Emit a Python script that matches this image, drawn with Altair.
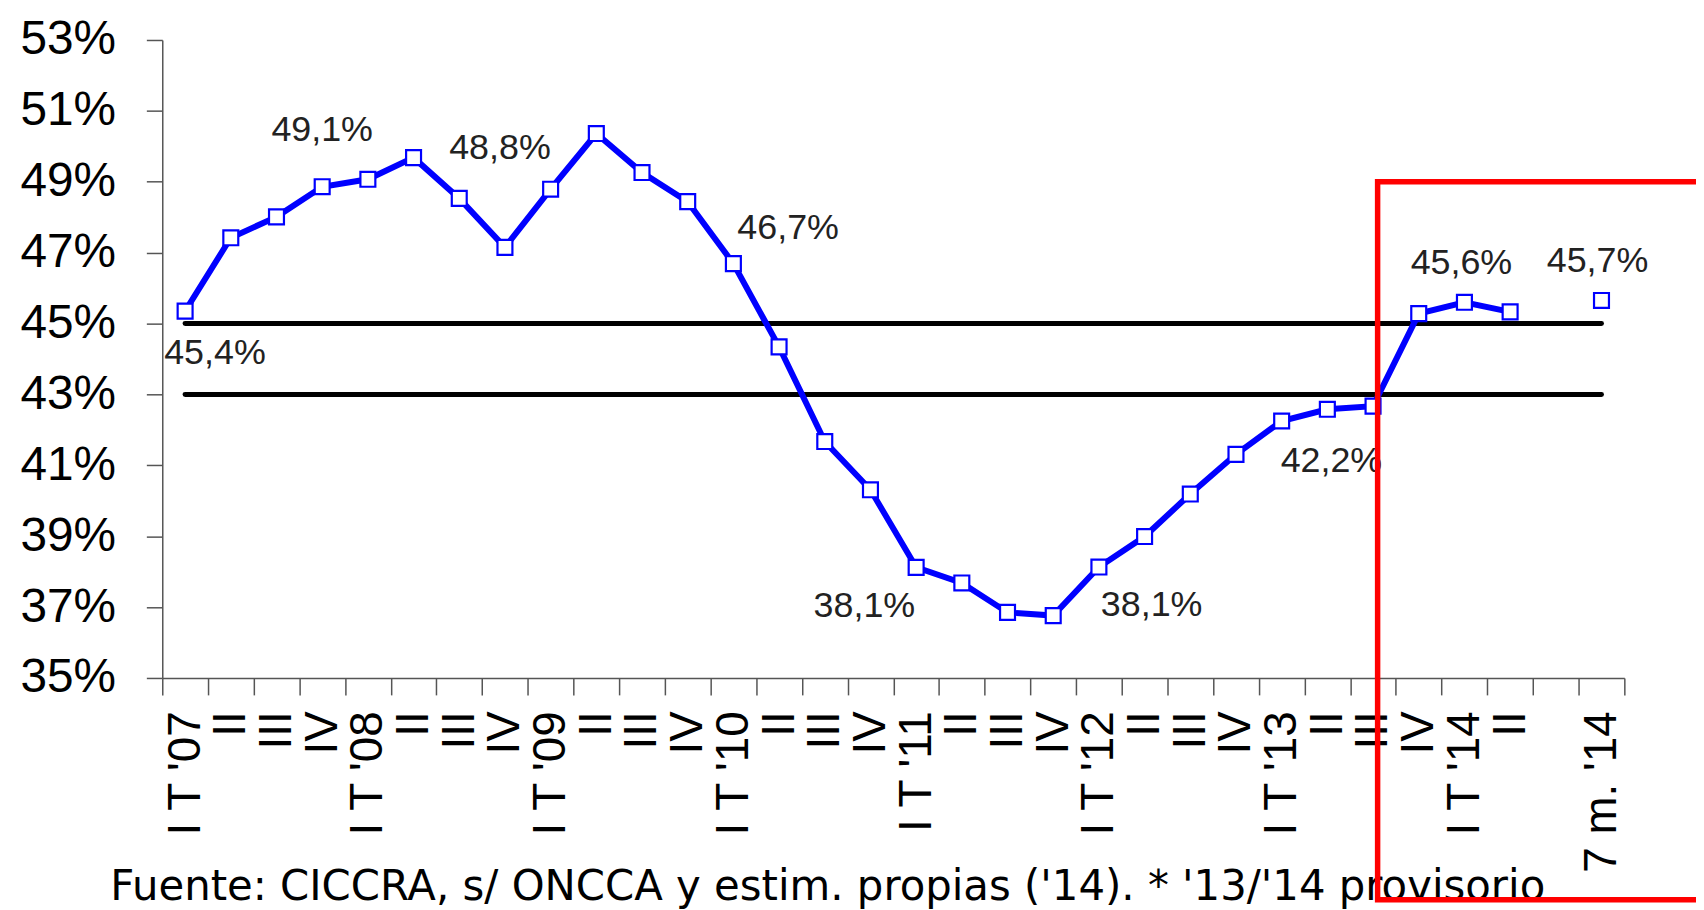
import altair as alt
import pandas as pd

# ---------------- data ----------------
tick_labels = ["I T '07", "II", "III", "IV",
               "I T '08", "II", "III", "IV",
               "I T '09", "II", "III", "IV",
               "I T '10", "II", "III", "IV",
               "I T '11", "II", "III", "IV",
               "I T '12", "II", "III", "IV",
               "I T '13", "II", "III", "IV",
               "I T '14", "II", "", "7 m. '14"]

share = [45.35, 47.42, 48.01, 48.86, 49.07, 49.68, 48.53, 47.15,
         48.79, 50.36, 49.26, 48.44, 46.69, 44.34, 41.67, 40.31,
         38.12, 37.68, 36.85, 36.76, 38.13, 38.99, 40.19, 41.31,
         42.25, 42.58, 42.67, 45.28, 45.60, 45.33, None, 45.65]

series = ["trimestral"] * 30 + ["", "7 meses"]

reference_levels = [45, 43]

label_texts = ["45,4%", "49,1%", "48,8%", "46,7%", "38,1%", "38,1%", "42,2%", "45,6%", "45,7%"]
label_period = [0, 3, 7, 12, 16, 20, 24, 28, 31]
label_y = [44.16, 50.46, 49.94, 47.68, 37.02, 37.05, 41.13, 46.72, 46.77]

footer_text = "Fuente: CICCRA, s/ ONCCA y estim. propias ('14). * '13/'14 provisorio"

# ---------------- annotation placement (pixels / band units) ----------------
label_dx = [30, 0, -5, 55, -52, 53, 50, -3, -4]
box_left, box_right, box_top, box_bottom = 26.6, 36.0, 49.0, 28.74
footer_x, footer_y = -1.14, 28.74

W, H = 1469, 641
half_band = W / len(tick_labels) / 2

keys = [f"{lab}#{i}" for i, lab in enumerate(tick_labels)]
df = pd.DataFrame({"key": keys, "share": share, "series": series})
line_df = df[df["series"] == "trimestral"]
pts_df = df.dropna(subset=["share"])

ref_rows = []
for lv in reference_levels:
    ref_rows.append({"key": keys[0], "level": lv, "ref": str(lv)})
    ref_rows.append({"key": keys[-1], "level": lv, "ref": str(lv)})
ref_df = pd.DataFrame(ref_rows)

lab_df = pd.DataFrame({
    "key": [keys[i] for i in label_period],
    "ly": label_y,
    "text": label_texts,
    "dx": [d + half_band for d in label_dx],
})

yscale = alt.Scale(domain=[35, 53], nice=False, zero=False)
xscale = alt.Scale(type="band", domain=keys, paddingInner=0, paddingOuter=0)

x_axis = alt.Axis(
    title=None,
    labelExpr="isString(datum.value) ? split(datum.value, '#')[0] : ''",
    tickBand="extent",
    labelAngle=270, labelAlign="right", labelBaseline="middle", labelPadding=16,
    labelFontSize=46, labelFont="Liberation Sans", labelColor="black",
    tickSize=17, tickColor="#555555", tickWidth=1.5,
    domainColor="#555555", domainWidth=1.5, labelOverlap=False, grid=False,
)
y_axis = alt.Axis(
    title=None, values=list(range(35, 54, 2)), labelExpr="datum.value + '%'",
    labelFontSize=48, labelFont="Liberation Sans", labelColor="black", labelPadding=31,
    tickSize=16, tickColor="#555555", tickWidth=1.5,
    domainColor="#555555", domainWidth=1.5, grid=False,
)

X = alt.X("key:N", sort=keys, scale=xscale, axis=x_axis)

refs = alt.Chart(ref_df).mark_line(color="black", strokeWidth=5, strokeCap="round").encode(
    x=X, y=alt.Y("level:Q", scale=yscale, axis=y_axis), detail="ref:N")

line = alt.Chart(line_df).mark_line(color="#0000ff", strokeWidth=6).encode(
    x=X, y=alt.Y("share:Q", scale=yscale, axis=y_axis))

pts = alt.Chart(pts_df).mark_point(shape="square", size=225, filled=True, fill="white",
                                   stroke="#0000ff", strokeWidth=2.2, opacity=1).encode(
    x=X, y=alt.Y("share:Q", scale=yscale, axis=y_axis))

labels = alt.Chart(lab_df).mark_text(font="Liberation Sans", fontSize=36, color="#222222",
                                     align="center", baseline="middle").encode(
    x=X, xOffset=alt.XOffset("dx:Q", scale=None),
    y=alt.Y("ly:Q", scale=yscale, axis=y_axis), text="text:N")

main = alt.layer(refs, line, pts, labels)

box_df = pd.DataFrame({"x0": [box_left], "x1": [box_right], "y0": [box_top], "y1": [box_bottom]})
foot_df = pd.DataFrame({"fx": [footer_x], "fy": [footer_y], "t": [footer_text]})
ascale = alt.Scale(domain=[0, 32], nice=False, zero=False)
ayscale = alt.Scale(domain=[35, 53], nice=False, zero=False)

box = alt.Chart(box_df).mark_rect(fillOpacity=0, stroke="#ff0000", strokeWidth=5.5).encode(
    x=alt.X("x0:Q", scale=ascale, axis=None), x2="x1",
    y=alt.Y("y0:Q", scale=ayscale, axis=None), y2="y1")

foot = alt.Chart(foot_df).mark_text(font="DejaVu Sans", fontSize=42, color="black",
                                    align="left", baseline="alphabetic").encode(
    x=alt.X("fx:Q", scale=ascale, axis=None),
    y=alt.Y("fy:Q", scale=ayscale, axis=None), text="t:N")

annot = alt.layer(foot, box)

chart = alt.layer(main, annot).resolve_scale(x="independent", y="independent").properties(
    width=W, height=H,
    padding={"left": 155, "top": 30, "right": 72, "bottom": 231},
    autosize=alt.AutoSizeParams(type="none"),
).configure_view(stroke=None)

chart.save("out.html", embed_options={"renderer": "svg", "actions": False})
